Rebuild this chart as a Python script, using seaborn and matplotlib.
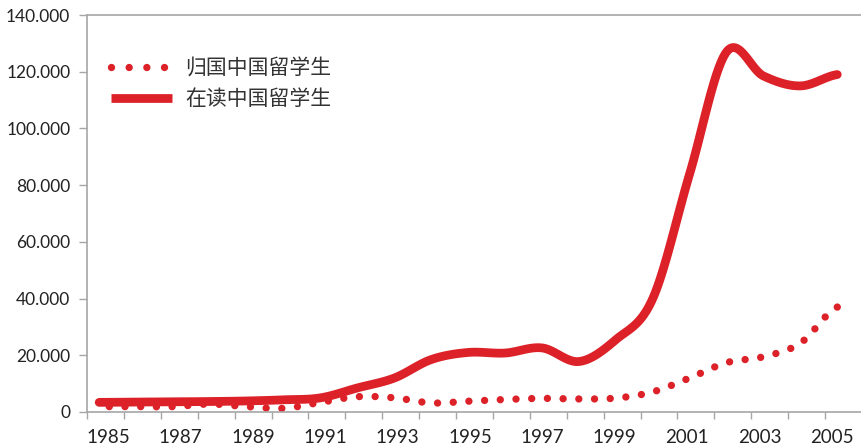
import numpy as np
import pandas as pd
import matplotlib
matplotlib.use("Agg")
import matplotlib.pyplot as plt
from matplotlib.lines import Line2D
import seaborn as sns

# ---- data ----
years = list(range(1985, 2006))
returned = [1900, 1900, 1900, 2800, 1900, 1300, 3400, 5400, 5000, 3200, 3800,
            4400, 4800, 4600, 4900, 7100, 12000, 17400, 19500, 24300, 37000]
studying = [3400, 3500, 3600, 3700, 3900, 4300, 5000, 8500, 12000, 18500, 21000,
            20800, 22600, 17800, 25500, 40000, 84000, 127000, 118500, 115000, 119000]
series_names = ["归国中国留学生", "在读中国留学生"]
year_labels = [str(y) for y in range(1985, 2006, 2)]
y_ticks = list(range(0, 140001, 20000))

RED = "#dc2128"
GRAY = "#a6a6a6"
DPI = 100


def smooth(xs, ys, n=30):
    """Catmull-Rom rendering of the yearly series (for drawing only)."""
    xs = np.asarray(xs, float)
    ys = np.asarray(ys, float)
    p = np.concatenate([[ys[0]], ys, [ys[-1]]])
    ox, oy = [], []
    for i in range(len(xs) - 1):
        p0, p1, p2, p3 = p[i], p[i + 1], p[i + 2], p[i + 3]
        m1 = (p2 - p0) / 2.0
        m2 = (p3 - p1) / 2.0
        t = np.linspace(0, 1, n, endpoint=False)
        h00 = 2 * t**3 - 3 * t**2 + 1
        h10 = t**3 - 2 * t**2 + t
        h01 = -2 * t**3 + 3 * t**2
        h11 = t**3 - t**2
        oy.extend(h00 * p1 + h10 * m1 + h01 * p2 + h11 * m2)
        ox.extend(xs[i] + t * (xs[i + 1] - xs[i]))
    ox.append(xs[-1])
    oy.append(ys[-1])
    return np.array(ox), np.array(oy)


sns.set_theme(style="white")
plt.rcParams["font.family"] = ["Lato", "Noto Sans CJK SC", "DejaVu Sans"]
plt.rcParams["path.simplify"] = False

fig = plt.figure(figsize=(8.62, 4.45), dpi=DPI)
ax = fig.add_axes([87 / 862, 1 - 412 / 445, 1 - 87 / 862, 397 / 445])

xr, yr = smooth(years, returned)
xs, ys = smooth(years, studying)
# dotted curve is drawn from its right end so a dot sits on the 2005 value
df_r = pd.DataFrame({"year": xr[::-1], "value": yr[::-1]})
df_s = pd.DataFrame({"year": xs, "value": ys})

LW_S, LW_R = 6.3, 5.3

sns.lineplot(data=df_s, x="year", y="value", ax=ax, color=RED, linewidth=LW_S,
             estimator=None, sort=False)
ln_s = ax.lines[-1]
ln_s.set_solid_capstyle("round")
ln_s.set_solid_joinstyle("round")

sns.lineplot(data=df_r, x="year", y="value", ax=ax, color=RED, linewidth=LW_R,
             estimator=None, sort=False)
ln_r = ax.lines[-1]

ax.set_xlim(1984.67, 2005.45)
ax.set_ylim(0, 140000)

# spread the dot pattern evenly over the curve length
disp = ax.transData.transform(np.column_stack([xr, yr]))
length = np.sum(np.hypot(np.diff(disp[:, 0]), np.diff(disp[:, 1])))
lw_px = LW_R * DPI / 72.0
period = 2.121 * lw_px
n_per = max(1, int(round(length / period)))
gap = (length - 2.0) / n_per / lw_px - 0.001
ln_r.set_linestyle((0, (0.001, gap)))
ln_r.set_dash_capstyle("round")

# y axis
ax.set_yticks(y_ticks)
ax.set_yticklabels([f"{v:,}".replace(",", ".") for v in y_ticks])
# x axis: labels (major, no marks) and boundary tick marks (minor)
lab_pos = [y + 0.25 - 0.02 * (y - 1985) for y in range(1985, 2006, 2)]
ax.set_xticks(lab_pos)
ax.set_xticklabels(year_labels)
ax.set_xticks([y - 0.33 for y in range(1985, 2007)], minor=True)
ax.tick_params(axis="x", which="major", length=0, pad=12, labelsize=13.5,
               labelcolor="#222222")
ax.tick_params(axis="x", which="minor", length=5, width=1, color=GRAY,
               direction="out", bottom=True)
ax.tick_params(axis="y", which="major", length=6, width=1, color=GRAY,
               direction="out", left=True, pad=6, labelsize=12.5,
               labelcolor="#222222")
ax.set_xlabel("")
ax.set_ylabel("")

for side in ["left", "top", "bottom"]:
    ax.spines[side].set_visible(True)
    ax.spines[side].set_color(GRAY)
    ax.spines[side].set_linewidth(1.2)
ax.spines["right"].set_visible(False)
ax.grid(False)

handles = [
    Line2D([], [], color=RED, linewidth=LW_R, linestyle=(0, (0.001, 2.4)),
           dash_capstyle="round"),
    Line2D([], [], color=RED, linewidth=LW_S, solid_capstyle="butt"),
]
leg = ax.legend(handles, series_names, loc="upper left",
                bbox_to_anchor=(0.031, 0.893), frameon=False, borderpad=0,
                borderaxespad=0, handlelength=2.95, handletextpad=0.63,
                labelspacing=0.42,
                prop={"family": ["Noto Sans CJK SC", "DejaVu Sans"], "size": 15})
for t in leg.get_texts():
    t.set_color("#333333")

fig.savefig("out.png", dpi=DPI)
